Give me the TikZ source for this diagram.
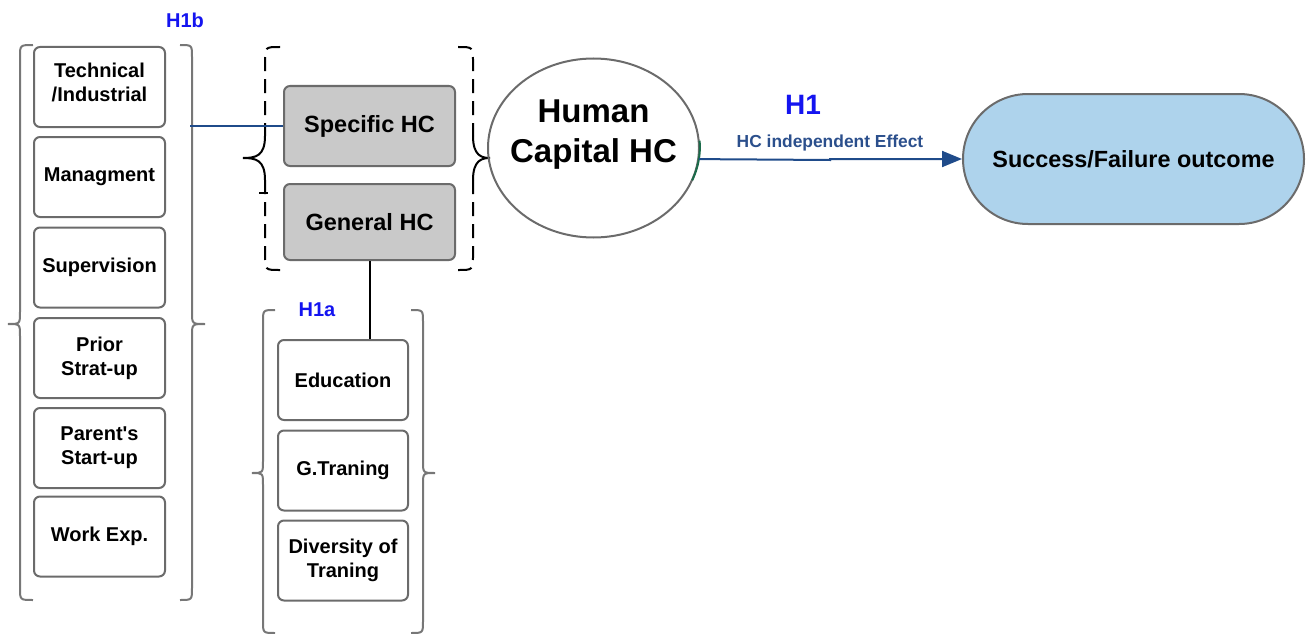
\documentclass[tikz,border=0pt]{standalone}
\usepackage{fontspec}
\setmainfont{Liberation Sans}
% same face without the TeX quote mapping, for a straight apostrophe
\newfontfamily\straightsans{Liberation Sans}
\usetikzlibrary{shapes.geometric,arrows.meta,calc}
\definecolor{boxline}{HTML}{6B6B6B}
\definecolor{braceline}{HTML}{777777}
\definecolor{hcgray}{HTML}{C9C9C9}
\definecolor{outfill}{HTML}{AED3EC}
\definecolor{hblue}{HTML}{1414F0}
\definecolor{effblue}{HTML}{2B4F8C}
\definecolor{arrblue}{HTML}{1F4B8A}
\definecolor{tickgreen}{HTML}{1B6B4A}
\begin{document}
\begin{tikzpicture}[x=1pt,y=-1pt,
  item/.style={draw=boxline,line width=2pt,rounded corners=6pt,fill=white,
    minimum width=131pt,minimum height=80pt,inner sep=0pt,align=center,
    font=\fontsize{20}{24}\selectfont\bfseries},
  hcbox/.style={item,fill=hcgray,minimum width=171pt,
    font=\fontsize{23.5}{28}\selectfont\bfseries},
  brc/.style={draw=braceline,line width=2pt},
  dbrc/.style={draw=black,line width=2pt,dash pattern=on 14pt off 8pt},
  sbrc/.style={draw=black,line width=2pt},
  hlabel/.style={text=hblue,font=\fontsize{20}{24}\selectfont\bfseries,anchor=base,inner sep=0pt},
]
\useasboundingbox (0,0) rectangle (1312,634);

% ---- experience items (H1b) ----
\node[item,text depth=10pt] (tech) at (99.5,87) {Technical\\/Industrial};
\node[item] (mgmt) at (99.5,177) {Managment};
\node[item] (sup)  at (99.5,267.5) {Supervision};
\node[item] (prior) at (99.5,358) {Prior\\Strat-up};
\node[item] (parent) at (99.5,448) {Parent{\straightsans\bfseries '}s\\Start-up};
\node[item] (work) at (99.5,536.5) {Work Exp.};

\draw[brc] (33,45) .. controls (20,45) .. (20,57) -- (20,312)
  .. controls (20,324) .. (8,324) .. controls (20,324) .. (20,336)
  -- (20,588) .. controls (20,600) .. (33,600);
\draw[brc] (180,45) .. controls (192,45) .. (192,57) -- (192,312)
  .. controls (192,324) .. (205,324) .. controls (192,324) .. (192,336)
  -- (192,588) .. controls (192,600) .. (180,600);
\node[hlabel] (h1b) at (185,28) {H1b};

% ---- specific / general human capital ----
\node[hcbox] (spec) at (369.5,126) {Specific HC};
\node[hcbox,minimum height=76pt] (gen) at (369.5,222) {General HC};

\draw[dbrc] (280,47) .. controls (265,47) .. (265,62) -- (265,136);
\draw[sbrc] (265,136) .. controls (265,156) and (256,158) .. (243,158)
  .. controls (256,158) and (265,160) .. (265,180);
\draw[dbrc] (265,180) -- (265,255) .. controls (265,270) .. (280,270);
\draw[sbrc] (259,193) -- (268,193);
\draw[dbrc] (458,47) .. controls (473,47) .. (473,62) -- (473,136);
\draw[sbrc] (473,136) .. controls (473,156) and (482,158) .. (490,158)
  .. controls (482,158) and (473,160) .. (473,180);
\draw[dbrc] (473,180) -- (473,255) .. controls (473,270) .. (458,270);

\coordinate (h1bout) at (190,126);
\draw[arrblue,line width=1.6pt] (h1bout) -- (spec.west);

% ---- general items (H1a) ----
\node[item,minimum width=130pt] (edu) at (343,380) {Education};
\node[item,minimum width=130pt] (gtrain) at (343,470.5) {G.Traning};
\node[item,minimum width=130pt] (div) at (343,560.5) {Diversity of\\Traning};

\draw[brc] (275,310) .. controls (263,310) .. (263,322) -- (263,461)
  .. controls (263,473) .. (252,473) .. controls (263,473) .. (263,485)
  -- (263,621) .. controls (263,633) .. (275,633);
\draw[brc] (411,310) .. controls (423,310) .. (423,322) -- (423,461)
  .. controls (423,473) .. (435,473) .. controls (423,473) .. (423,485)
  -- (423,621) .. controls (423,633) .. (411,633);
\node[hlabel] (h1a) at (317,316) {H1a};

\draw[black,line width=2pt] (gen.south) -- (gen.south |- edu.north);

% ---- human capital and outcome ----
\node[ellipse,draw=boxline,line width=2pt,minimum width=211pt,minimum height=179pt,inner sep=0pt] (hc) at (593.5,148) {};
\node[anchor=base,align=center,inner sep=0pt,font=\fontsize{33}{40}\selectfont\bfseries] (hctext) at (593.5,162) {Human\\Capital HC};
\draw[tickgreen,line width=2pt] (hc.4) arc[start angle=-4,end angle=22,x radius=105.5,y radius=89.5];

\node[draw=boxline,line width=2pt,fill=outfill,rounded corners=65pt,minimum width=341pt,minimum height=130pt,inner sep=0pt,
  font=\fontsize{23.4}{28}\selectfont\bfseries] (out) at (1133.5,159) {Success/Failure outcome};

\coordinate (step1) at (830,160);
\coordinate (step2) at (830,159);
\draw[arrblue,line width=2pt,-{Triangle[length=20pt,width=16pt]}] (hc.-6.5) -- (step1) -- (step2) -- (out.west);
\node[hlabel,font=\fontsize{28}{32}\selectfont\bfseries] (h1) at (803,114) {H1};
\node[anchor=base,inner sep=0pt,text=effblue,font=\fontsize{17.4}{20}\selectfont\bfseries] (eff) at (830,147) {HC independent Effect};
\end{tikzpicture}
\end{document}
